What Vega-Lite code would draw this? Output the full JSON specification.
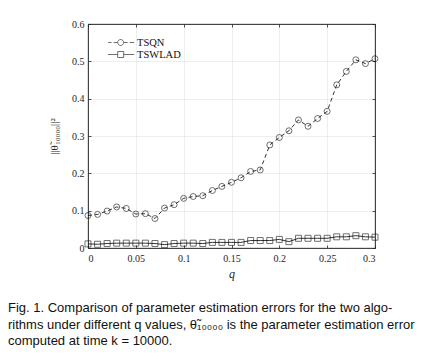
{
  "$schema": "https://vega.github.io/schema/vega-lite/v6.json",
  "width": 287,
  "height": 224,
  "autosize": "none",
  "padding": {"left": 88, "top": 24, "right": 69, "bottom": 107},
  "background": "white",
  "title": {
    "text": [
      "Fig. 1.    Comparison of parameter estimation errors for the two algo-",
      "rithms under different q values, θ̃₁₀₀₀₀ is the parameter estimation error",
      "computed at time k = 10000."
    ],
    "orient": "bottom",
    "anchor": "start",
    "frame": "group",
    "dx": -80,
    "offset": 23,
    "font": "Liberation Sans",
    "fontSize": 13,
    "fontWeight": "normal",
    "color": "#111111",
    "lineHeight": 16.7
  },
  "config": {
    "view": {"stroke": "#262626", "strokeWidth": 0.8},
    "axis": {
      "domainColor": "#262626",
      "domainWidth": 0.8,
      "tickColor": "#262626",
      "tickWidth": 0.8,
      "tickSize": -3,
      "labelFont": "Liberation Serif",
      "labelFontSize": 10,
      "labelColor": "#262626",
      "titleFont": "Liberation Serif",
      "titleFontWeight": "normal",
      "titleColor": "#262626",
      "gridColor": "#e3e3e3",
      "gridWidth": 0.6
    }
  },
  "datasets": {
    "errs": [
      {"q": 0.00, "err": 0.087, "series": "TSQN"},
      {"q": 0.01, "err": 0.090, "series": "TSQN"},
      {"q": 0.02, "err": 0.099, "series": "TSQN"},
      {"q": 0.03, "err": 0.110, "series": "TSQN"},
      {"q": 0.04, "err": 0.106, "series": "TSQN"},
      {"q": 0.05, "err": 0.091, "series": "TSQN"},
      {"q": 0.06, "err": 0.092, "series": "TSQN"},
      {"q": 0.07, "err": 0.079, "series": "TSQN"},
      {"q": 0.08, "err": 0.107, "series": "TSQN"},
      {"q": 0.09, "err": 0.116, "series": "TSQN"},
      {"q": 0.10, "err": 0.133, "series": "TSQN"},
      {"q": 0.11, "err": 0.138, "series": "TSQN"},
      {"q": 0.12, "err": 0.140, "series": "TSQN"},
      {"q": 0.13, "err": 0.154, "series": "TSQN"},
      {"q": 0.14, "err": 0.165, "series": "TSQN"},
      {"q": 0.15, "err": 0.176, "series": "TSQN"},
      {"q": 0.16, "err": 0.188, "series": "TSQN"},
      {"q": 0.17, "err": 0.205, "series": "TSQN"},
      {"q": 0.18, "err": 0.209, "series": "TSQN"},
      {"q": 0.19, "err": 0.276, "series": "TSQN"},
      {"q": 0.20, "err": 0.296, "series": "TSQN"},
      {"q": 0.21, "err": 0.314, "series": "TSQN"},
      {"q": 0.22, "err": 0.343, "series": "TSQN"},
      {"q": 0.23, "err": 0.326, "series": "TSQN"},
      {"q": 0.24, "err": 0.347, "series": "TSQN"},
      {"q": 0.25, "err": 0.366, "series": "TSQN"},
      {"q": 0.26, "err": 0.437, "series": "TSQN"},
      {"q": 0.27, "err": 0.473, "series": "TSQN"},
      {"q": 0.28, "err": 0.504, "series": "TSQN"},
      {"q": 0.29, "err": 0.494, "series": "TSQN"},
      {"q": 0.30, "err": 0.507, "series": "TSQN"},
      {"q": 0.00, "err": 0.011, "series": "TSWLAD"},
      {"q": 0.01, "err": 0.010, "series": "TSWLAD"},
      {"q": 0.02, "err": 0.012, "series": "TSWLAD"},
      {"q": 0.03, "err": 0.013, "series": "TSWLAD"},
      {"q": 0.04, "err": 0.013, "series": "TSWLAD"},
      {"q": 0.05, "err": 0.013, "series": "TSWLAD"},
      {"q": 0.06, "err": 0.013, "series": "TSWLAD"},
      {"q": 0.07, "err": 0.012, "series": "TSWLAD"},
      {"q": 0.08, "err": 0.009, "series": "TSWLAD"},
      {"q": 0.09, "err": 0.012, "series": "TSWLAD"},
      {"q": 0.10, "err": 0.013, "series": "TSWLAD"},
      {"q": 0.11, "err": 0.013, "series": "TSWLAD"},
      {"q": 0.12, "err": 0.012, "series": "TSWLAD"},
      {"q": 0.13, "err": 0.015, "series": "TSWLAD"},
      {"q": 0.14, "err": 0.015, "series": "TSWLAD"},
      {"q": 0.15, "err": 0.015, "series": "TSWLAD"},
      {"q": 0.16, "err": 0.015, "series": "TSWLAD"},
      {"q": 0.17, "err": 0.020, "series": "TSWLAD"},
      {"q": 0.18, "err": 0.020, "series": "TSWLAD"},
      {"q": 0.19, "err": 0.020, "series": "TSWLAD"},
      {"q": 0.20, "err": 0.023, "series": "TSWLAD"},
      {"q": 0.21, "err": 0.017, "series": "TSWLAD"},
      {"q": 0.22, "err": 0.026, "series": "TSWLAD"},
      {"q": 0.23, "err": 0.026, "series": "TSWLAD"},
      {"q": 0.24, "err": 0.026, "series": "TSWLAD"},
      {"q": 0.25, "err": 0.026, "series": "TSWLAD"},
      {"q": 0.26, "err": 0.030, "series": "TSWLAD"},
      {"q": 0.27, "err": 0.030, "series": "TSWLAD"},
      {"q": 0.28, "err": 0.033, "series": "TSWLAD"},
      {"q": 0.29, "err": 0.030, "series": "TSWLAD"},
      {"q": 0.30, "err": 0.029, "series": "TSWLAD"}
    ],
    "legendkeys": []
  },
  "layer": [
    {
      "data": {"name": "errs"},
      "transform": [{"filter": "datum.series === 'TSQN'"}],
      "mark": {"type": "line", "color": "black", "strokeWidth": 0.8, "strokeDash": [4, 3]},
      "encoding": {
        "x": {
          "field": "q", "type": "quantitative",
          "scale": {"domain": [0, 0.3], "nice": false, "zero": false},
          "axis": {
            "values": [0, 0.05, 0.1, 0.15, 0.2, 0.25, 0.3],
            "format": "~g",
            "title": "q",
            "titleFontStyle": "italic",
            "titleFontSize": 12,
            "titlePadding": 5,
            "labelPadding": 8,
            "grid": true
          }
        },
        "y": {
          "field": "err", "type": "quantitative",
          "scale": {"domain": [0, 0.6], "nice": false},
          "axis": {
            "values": [0, 0.1, 0.2, 0.3, 0.4, 0.5, 0.6],
            "format": "~g",
            "title": "||θ̃₁₀₀₀₀||²",
            "titleFontSize": 11,
            "titlePadding": 12,
            "labelPadding": 7,
            "grid": true
          }
        }
      }
    },
    {
      "data": {"name": "errs"},
      "transform": [{"filter": "datum.series === 'TSWLAD'"}],
      "mark": {"type": "line", "color": "black", "strokeWidth": 0.8},
      "encoding": {
        "x": {"field": "q", "type": "quantitative", "axis": null},
        "y": {"field": "err", "type": "quantitative", "axis": null}
      }
    },
    {
      "data": {"name": "errs"},
      "transform": [{"filter": "datum.series === 'TSQN'"}],
      "mark": {"type": "point", "shape": "circle", "filled": false, "color": "black", "size": 36, "strokeWidth": 0.8},
      "encoding": {
        "x": {
          "field": "q", "type": "quantitative",
          "axis": {"orient": "top", "values": [0, 0.05, 0.1, 0.15, 0.2, 0.25, 0.3], "labels": false, "title": null, "grid": false}
        },
        "y": {
          "field": "err", "type": "quantitative",
          "axis": {"orient": "right", "values": [0, 0.1, 0.2, 0.3, 0.4, 0.5, 0.6], "labels": false, "title": null, "grid": false}
        }
      }
    },
    {
      "data": {"name": "errs"},
      "transform": [{"filter": "datum.series === 'TSWLAD'"}],
      "mark": {"type": "point", "shape": "square", "filled": false, "color": "black", "size": 36, "strokeWidth": 0.8},
      "encoding": {
        "x": {"field": "q", "type": "quantitative", "axis": null},
        "y": {"field": "err", "type": "quantitative", "axis": null}
      }
    },
    {
      "data": {"name": "legendkeys"},
      "mark": {"type": "point", "filled": false, "color": "black", "strokeWidth": 0.8},
      "encoding": {
        "shape": {
          "field": "series", "type": "nominal",
          "scale": {
            "domain": ["TSQN", "TSWLAD"],
            "range": [
              "M-1.07,0H-0.48M-0.15,0H0.53M1.53,0A0.5,0.5 0 1,1 0.53,0A0.5,0.5 0 1,1 1.53,0ZM1.53,0H2.18M2.52,0H3.27",
              "M-1.07,0H0.53M1.53,0H3.27M0.53,-0.5H1.53V0.5H0.53Z"
            ]
          },
          "legend": {
            "title": null,
            "orient": "none",
            "legendX": 20,
            "legendY": 12,
            "labelFont": "Liberation Serif",
            "labelFontSize": 10.5,
            "labelColor": "#111111",
            "labelOffset": 16,
            "symbolSize": 144,
            "symbolStrokeWidth": 0.8,
            "symbolStrokeColor": "black",
            "symbolFillColor": "transparent",
            "rowPadding": 0
          }
        }
      }
    }
  ],
  "resolve": {"axis": {"x": "independent", "y": "independent"}}
}
